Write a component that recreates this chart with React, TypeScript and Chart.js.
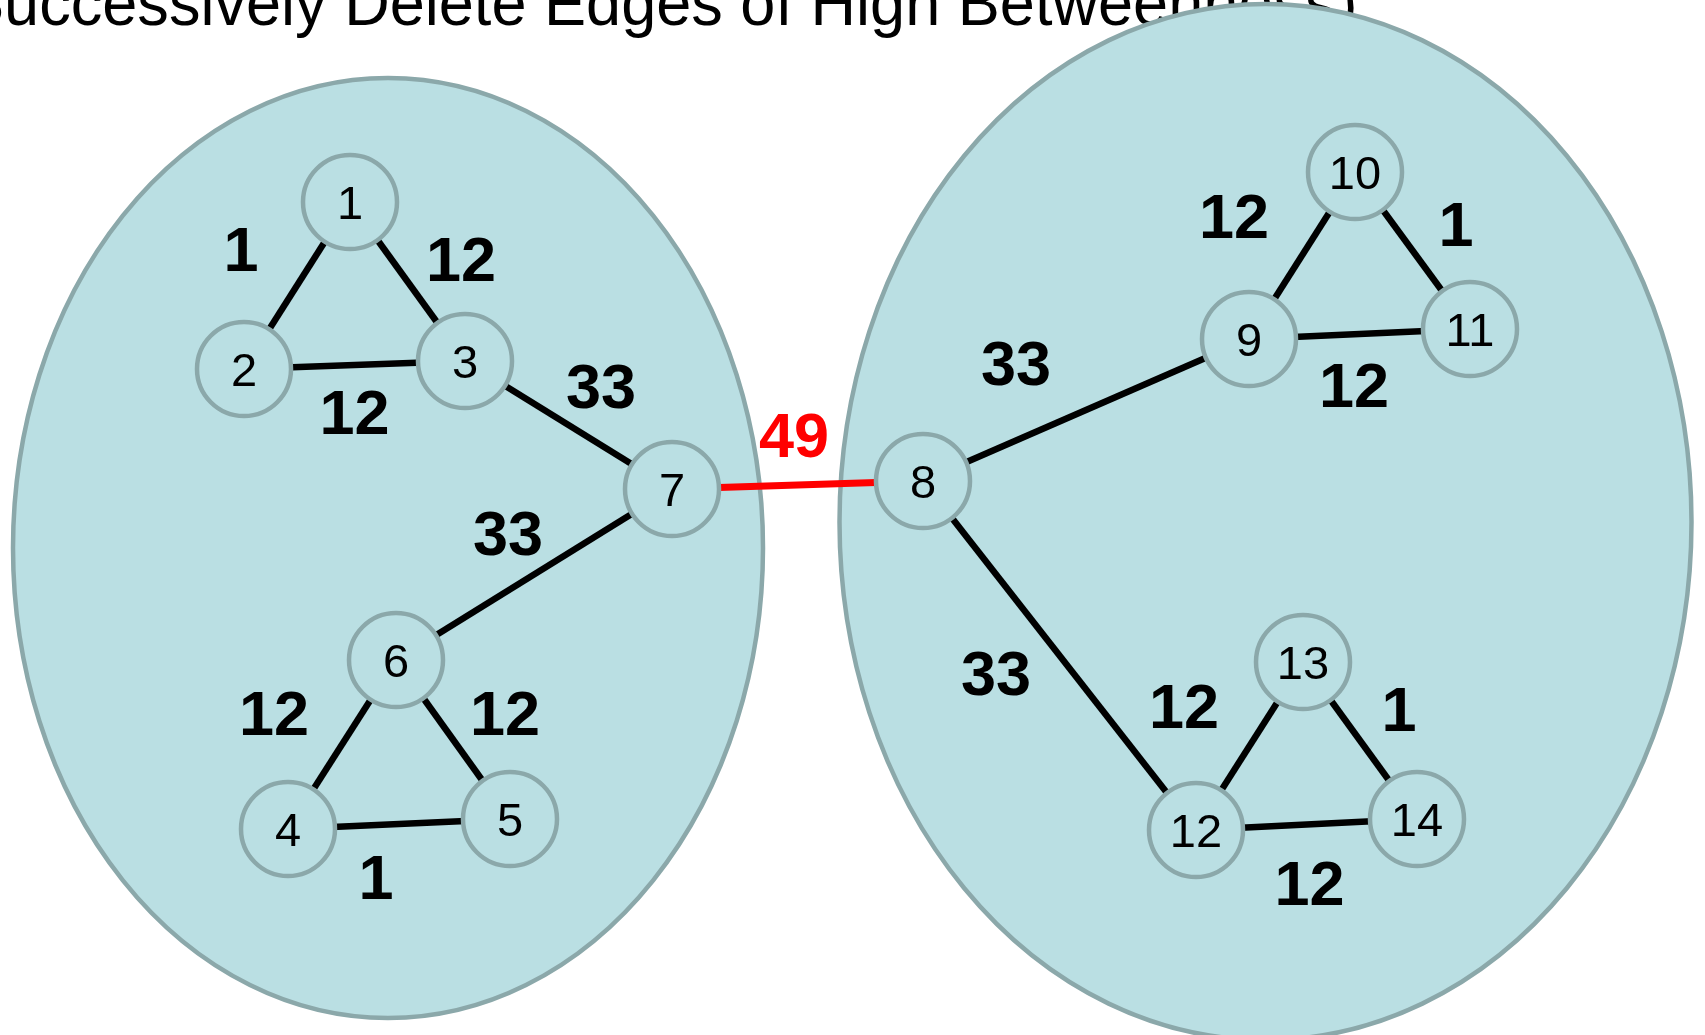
import { useEffect, useRef } from "react";
import { Chart, registerables } from "chart.js";

Chart.register(...registerables);

// ---- Data ----
const TITLE = "(Successively Delete Edges of High Betweenness)";

// Graph nodes (layout units)
const nodeIds = ["1", "2", "3", "4", "5", "6", "7", "8", "9", "10", "11", "12", "13", "14"];
const nodeX = [350, 244, 465, 288, 510, 396, 672, 923, 1249, 1355, 1470, 1196, 1303, 1417];
const nodeY = [202, 369, 361, 829, 819, 660, 489, 481, 339, 172, 329, 830, 662, 819];

// Graph edges and their betweenness values
const edgeFrom = ["1", "1", "2", "3", "7", "6", "6", "4", "7", "8", "9", "10", "9", "8", "12", "13", "12"];
const edgeTo = ["2", "3", "3", "7", "6", "4", "5", "5", "8", "9", "10", "11", "11", "12", "13", "14", "14"];
const edgeBetweenness = [1, 12, 12, 33, 33, 12, 12, 1, 49, 33, 12, 1, 12, 33, 12, 1, 12];

// Where each betweenness label sits relative to its edge midpoint (layout units)
const labelDx = [-56, 53.5, 0, 32.5, -26, -68, 52, -23, -3.5, -70, -68, 43.5, -5.5, -63.5, -65.5, 39, 3];
const labelDy = [-37.5, -23.5, 46, -40, -42.5, -32, -27, 52, -51, -48, -40, -27.5, 50, 16.5, -41, -32.5, 57.5];

// Communities (ellipses, layout units)
const clusterCx = [388, 1265.5];
const clusterCy = [548, 522];
const clusterRx = [375, 426];
const clusterRy = [470, 518];

// ---- Styles ----
const FILL = "#BADFE3";
const OUTLINE = "#8BA8AA";
const SANS = "'Liberation Sans', Arial, Helvetica, sans-serif";

const W = 1705;
const H = 1035;

export default function App() {
  const ref = useRef<HTMLCanvasElement | null>(null);

  useEffect(() => {
    const canvas = ref.current;
    if (!canvas) return;

    const idx = (id: string) => nodeIds.indexOf(id);
    const maxB = Math.max(...edgeBetweenness);

    const edgeDatasets = edgeFrom.map((f, i) => {
      const a = idx(f);
      const b = idx(edgeTo[i]);
      const hot = edgeBetweenness[i] === maxB;
      return {
        type: "scatter" as const,
        data: [
          { x: nodeX[a], y: nodeY[a] },
          { x: nodeX[b], y: nodeY[b] },
        ],
        showLine: true,
        borderColor: hot ? "#FF0000" : "#000000",
        backgroundColor: hot ? "#FF0000" : "#000000",
        borderWidth: hot ? 7 : 6.5,
        pointRadius: 0,
        pointHoverRadius: 0,
        order: 1,
        clip: false as any,
      };
    });

    const nodeDataset = {
      type: "scatter" as const,
      data: nodeIds.map((_, i) => ({ x: nodeX[i], y: nodeY[i] })),
      pointRadius: 47,
      pointHoverRadius: 47,
      backgroundColor: FILL,
      borderColor: OUTLINE,
      borderWidth: 4.5,
      pointBorderWidth: 4.5,
      pointHoverBorderWidth: 4.5,
      order: 0,
      clip: false as any,
    };

    const backgroundPlugin = {
      id: "clustersAndTitle",
      beforeDatasetsDraw(chart: any) {
        const ctx = chart.ctx as CanvasRenderingContext2D;
        const xs = chart.scales.x;
        const ys = chart.scales.y;
        // title
        ctx.save();
        const size = 64;
        ctx.font = `${size}px ${SANS}`;
        ctx.fillStyle = "#000";
        ctx.textBaseline = "alphabetic";
        ctx.textAlign = "left";
        const wPrefix = ctx.measureText("(Successively ").width;
        const wUpTo = ctx.measureText("(Successively Delete Edges of High Betwee").width;
        const sx = (1173 - 349) / (wUpTo - wPrefix);
        const x0 = 349 - 0.077 * size * sx - wPrefix * sx;
        ctx.translate(x0, 25);
        ctx.scale(sx, 1);
        ctx.fillText(TITLE, 0, 0);
        ctx.restore();

        // clusters
        for (let i = 0; i < clusterCx.length; i++) {
          const cx = xs.getPixelForValue(clusterCx[i]);
          const cy = ys.getPixelForValue(clusterCy[i]);
          const rx = Math.abs(xs.getPixelForValue(clusterCx[i] + clusterRx[i]) - cx);
          const ry = Math.abs(ys.getPixelForValue(clusterCy[i] + clusterRy[i]) - cy);
          ctx.save();
          ctx.beginPath();
          ctx.ellipse(cx, cy, rx, ry, 0, 0, Math.PI * 2);
          ctx.fillStyle = FILL;
          ctx.fill();
          ctx.lineWidth = 4.5;
          ctx.strokeStyle = OUTLINE;
          ctx.stroke();
          ctx.restore();
        }
      },
      afterDatasetsDraw(chart: any) {
        const ctx = chart.ctx as CanvasRenderingContext2D;
        const xs = chart.scales.x;
        const ys = chart.scales.y;
        ctx.save();
        ctx.textAlign = "center";
        ctx.textBaseline = "alphabetic";
        // node labels
        const ns = 47;
        ctx.font = `${ns}px ${SANS}`;
        ctx.fillStyle = "#000";
        nodeIds.forEach((id, i) => {
          const px = xs.getPixelForValue(nodeX[i]);
          const py = ys.getPixelForValue(nodeY[i]);
          ctx.fillText(id, px, py + 0.358 * ns);
        });
        // edge labels
        const es = 63;
        ctx.font = `bold ${es}px ${SANS}`;
        edgeFrom.forEach((f, i) => {
          const a = idx(f);
          const b = idx(edgeTo[i]);
          const mx = (nodeX[a] + nodeX[b]) / 2 + labelDx[i];
          const my = (nodeY[a] + nodeY[b]) / 2 + labelDy[i];
          ctx.fillStyle = edgeBetweenness[i] === maxB ? "#FF0000" : "#000000";
          ctx.fillText(String(edgeBetweenness[i]), xs.getPixelForValue(mx), ys.getPixelForValue(my) + 0.358 * es);
        });
        ctx.restore();
      },
    };

    const chart = new Chart(canvas, {
      type: "scatter",
      data: { datasets: [nodeDataset as any, ...(edgeDatasets as any[])] },
      options: {
        animation: false,
        responsive: false,
        devicePixelRatio: 1,
        events: [],
        layout: { padding: 0, autoPadding: false },
        plugins: {
          legend: { display: false },
          tooltip: { enabled: false },
          title: { display: false },
        },
        scales: {
          x: { type: "linear", min: 0, max: W, display: false },
          y: { type: "linear", min: 0, max: H, reverse: true, display: false },
        },
      },
      plugins: [backgroundPlugin],
    });

    return () => chart.destroy();
  }, []);

  return (
    <canvas
      ref={ref}
      width={W}
      height={H}
      style={{ position: "fixed", left: 0, top: 0, width: W, height: H, background: "#fff" }}
    />
  );
}
